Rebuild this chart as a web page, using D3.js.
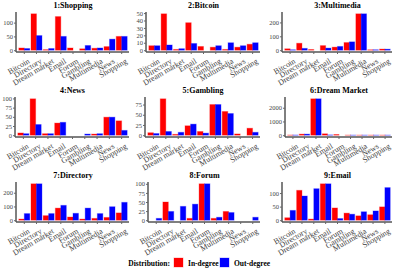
<!DOCTYPE html>
<html>
<head>
<meta charset="utf-8">
<script src="https://cdn.jsdelivr.net/npm/d3@7"></script>
<style>
  body { margin: 0; background: #fff; }
  svg { display: block; font-family: "Liberation Serif", "DejaVu Serif", serif; }
  .title { font-weight: bold; font-size: 8px; }
  .tick text { fill: #444; }
</style>
</head>
<body>
<svg width="399" height="272"></svg>
<script>
// categories on the x axis of every panel
var categories = ['Bitcoin', 'Directory', 'Dream market', 'Email', 'Forum',
    'Gambling', 'Multimedia', 'News', 'Shopping'];

var panelTitles = ['1:Shopping', '2:Bitcoin', '3:Multimedia', '4:News', '5:Gambling',
    '6:Dream Market', '7:Directory', '8:Forum', '9:Email'];

// in-degree values, one row per panel
var inDegree = [
    [8, 132, 2, 122, 8, 5, 7, 13, 50],
    [6, 49, 1, 37, 5, 4, 1, 4, 8],
    [10, 50, 5, 33, 22, 55, 262, 3, 8],
    [6, 99, 4, 33, 0, 0, 3, 49, 39],
    [6, 89, 2, 23, 9, 75, 58, 3, 17],
    [15, 75, 2650, 100, 50, 10, 10, 10, 10],
    [8, 265, 33, 88, 23, 8, 13, 20, 53],
    [0, 50, 0, 5, 100, 5, 24, 0, 0],
    [9, 110, 4, 134, 45, 26, 16, 20, 49]
];

// out-degree values, one row per panel
var outDegree = [
    [6, 53, 6, 50, 0, 17, 8, 40, 50],
    [6, 7, 2, 9, 0, 6, 10, 6, 10],
    [3, 13, 0, 15, 27, 60, 262, 3, 7],
    [4, 29, 4, 35, 0, 3, 4, 49, 13],
    [4, 9, 7, 27, 5, 75, 53, 0, 7],
    [15, 75, 2650, 20, 0, 10, 10, 10, 10],
    [48, 265, 48, 108, 50, 88, 48, 98, 130],
    [5, 24, 38, 44, 100, 8, 21, 0, 8],
    [36, 89, 116, 134, 6, 22, 31, 34, 120]
];

// y tick labels per panel
var yTicks = [
    [0, 50, 100],
    [0, 10, 20, 30, 40, 50],
    [0, 100, 200],
    [0, 25, 50, 75, 100],
    [0, 25, 50, 75],
    [0, 1000, 2000],
    [0, 100, 200],
    [0, 25, 50, 75, 100],
    [0, 50, 100]
];

var series = ['In-degree', 'Out-degree'];
var colors = { 'In-degree': '#ff0000', 'Out-degree': '#0000ff' };

var svg = d3.select('svg');

// layout of the grid
var colX = [0, 131, 263];
var rowY = [0, 85, 170];
var axisLeft = [17, 16, 20, 16, 15, 23, 17, 18, 20]; // offset of y axis inside panel
var panelRight = 129;
var plotTop = 12;
var plotBottom = 52;

panelTitles.forEach(function(title, p) {
    var col = p % 3, row = Math.floor(p / 3);
    var g = svg.append('g')
        .attr('transform', `translate(${colX[col]}, ${rowY[row]})`);

    var left = axisLeft[p];
    var maxV = d3.max(inDegree[p].concat(outDegree[p]));

    var x = d3.scaleBand().domain(categories)
        .range([left, panelRight])
        .paddingInner(0.1).paddingOuter(0.15);
    var xs = d3.scaleBand().domain(series).range([0, x.bandwidth()]);
    var y = d3.scaleLinear().domain([-0.05 * maxV, 1.05 * maxV])
        .range([plotBottom, plotTop]);

    g.append('text')
        .attr('class', 'title')
        .attr('x', (left + panelRight) / 2)
        .attr('y', 8)
        .attr('text-anchor', 'middle')
        .text(title);

    var rows = categories.map(function(c, i) {
        return { cat: c, vals: [inDegree[p][i], outDegree[p][i]] };
    });

    var groups = g.selectAll('.cat')
        .data(rows)
        .enter().append('g')
        .attr('class', 'cat')
        .attr('transform', d => `translate(${x(d.cat)},0)`);

    groups.selectAll('rect')
        .data(d => d.vals.map((v, k) => ({ key: series[k], value: v })))
        .enter().append('rect')
        .filter(d => d.value > 0)
        .attr('x', d => xs(d.key))
        .attr('width', xs.bandwidth())
        .attr('y', d => y(d.value))
        .attr('height', d => y(0) - y(d.value))
        .attr('fill', d => colors[d.key])
        .attr('stroke', d => colors[d.key])
        .attr('stroke-opacity', 0.3)
        .attr('stroke-width', 1);

    // y axis
    var ya = g.append('g')
        .attr('transform', `translate(${left - 1},0)`)
        .call(d3.axisLeft(y).tickValues(yTicks[p]).tickFormat(d3.format('d'))
            .tickSize(2).tickSizeOuter(0))
        .attr('font-family', null);
    ya.select('.domain').attr('stroke', '#000').attr('d', `M0,${plotTop}V${plotBottom}`);
    ya.selectAll('.tick line').attr('stroke', '#666');
    ya.selectAll('.tick text').style('font-size', '6.5px').attr('x', -3);

    // x axis
    var xa = g.append('g')
        .attr('transform', `translate(0,${plotBottom})`)
        .call(d3.axisBottom(x).tickSize(2).tickSizeOuter(0))
        .attr('font-family', null);
    xa.select('.domain').attr('stroke', '#555').attr('stroke-width', 1.5)
        .attr('d', `M${left - 1},0H${panelRight}`);
    xa.selectAll('.tick line').attr('stroke', '#666');
    xa.selectAll('.tick text')
        .style('font-size', '8px')
        .style('text-anchor', 'end')
        .attr('dy', '0.35em')
        .attr('transform', 'translate(2,4) rotate(-30)');
});

// legend
var legend = svg.append('g').attr('transform', 'translate(0,263)')
    .style('font-weight', 'bold').style('font-size', '7.5px');
legend.append('text').attr('x', 170).attr('y', 3)
    .attr('text-anchor', 'end').text('Distribution:');
var items = legend.selectAll('.item')
    .data(series)
    .enter().append('g')
    .attr('transform', (d, i) => `translate(${174 + i * 46},0)`);
items.append('rect')
    .attr('x', 0).attr('y', -5)
    .attr('width', 9).attr('height', 9)
    .attr('fill', d => colors[d])
    .attr('stroke', d => colors[d]).attr('stroke-opacity', 0.3);
items.append('text').attr('x', 14).attr('y', 3).text(d => d);
</script>
</body>
</html>
